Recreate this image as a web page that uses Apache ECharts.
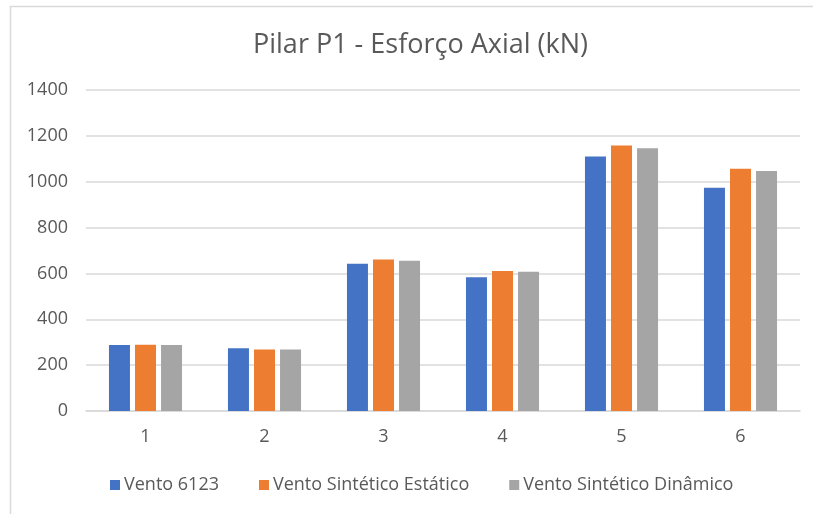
<!DOCTYPE html>
<html><head><meta charset="utf-8">
<script src="https://cdn.jsdelivr.net/npm/echarts@6/dist/echarts.min.js"></script>
<style>html,body{margin:0;padding:0;background:#fff}#c{width:813px;height:514px}</style>
</head><body><div id="c"></div>
<script>
const categories = ['1','2','3','4','5','6'];
const vento6123 = [288, 274, 642, 583, 1110, 974];
const ventoEstatico = [289, 268, 661, 611, 1158, 1056];
const ventoDinamico = [288, 268, 655, 607, 1146, 1047];
const seriesNames = ['Vento 6123','Vento Sintético Estático','Vento Sintético Dinâmico'];
const colors = ['#4472C4','#ED7D31','#A5A5A5'];
const font = 'Open Sans';
const chart = echarts.init(document.getElementById('c'));
const mk = (name, data, i) => ({
  name, type:'bar', data, barWidth:21, barGap:'24%',
  itemStyle:{color:colors[i]}
});
chart.setOption({
  animation:false,
  backgroundColor:'#fff',
  graphic:[{type:'rect',shape:{x:10.5,y:6.5,width:900,height:600},style:{fill:'none',stroke:'#d9d9d9',lineWidth:1.5},silent:true}],
  title:{text:'Pilar P1 - Esforço Axial (kN)',left:248,top:27,
    textStyle:{fontFamily:font,fontSize:27,fontWeight:'normal',color:'#595959'}},
  legend:{bottom:15,left:105,itemWidth:10,itemHeight:10,itemGap:40,icon:'rect',
    textStyle:{fontFamily:font,fontSize:18,color:'#595959',padding:[0,0,0,-1]},data:seriesNames},
  grid:{left:86,right:13,top:90,bottom:103,containLabel:false},
  xAxis:{type:'category',data:categories,
    axisLine:{lineStyle:{color:'#d9d9d9',width:1.5}},axisTick:{show:false},
    axisLabel:{fontFamily:font,fontSize:18,color:'#595959',margin:17}},
  yAxis:{type:'value',min:0,max:1400,interval:200,
    axisLine:{show:false},axisTick:{show:false},
    splitLine:{lineStyle:{color:'#d9d9d9',width:1.5}},
    axisLabel:{fontFamily:font,fontSize:18,color:'#595959',margin:18,formatter:v=>String(v)}},
  series:[mk(seriesNames[0],vento6123,0),mk(seriesNames[1],ventoEstatico,1),mk(seriesNames[2],ventoDinamico,2)]
});
</script></body></html>
